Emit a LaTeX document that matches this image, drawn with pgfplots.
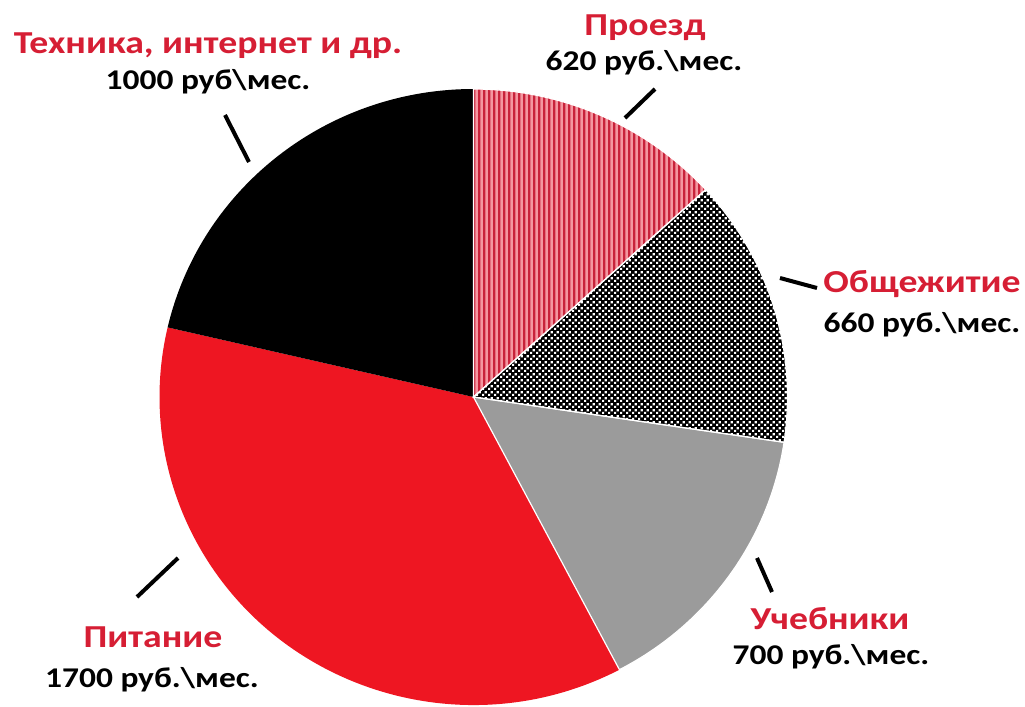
\documentclass[border=0pt]{standalone}
\usepackage{pgfplots}
\pgfplotsset{compat=1.18}
\usepackage{pgfplotstable}
\usepackage{fontspec}
\setmainfont{Carlito}
\usetikzlibrary{patterns}
\definecolor{lblred}{RGB}{214,30,52}
\definecolor{pinkbg}{RGB}{244,150,160}
\definecolor{stripered}{RGB}{200,34,58}
\definecolor{pitred}{RGB}{238,22,34}
\definecolor{uchgray}{RGB}{155,155,155}
\pgfdeclarepatternformonly{stripes}{\pgfqpoint{0pt}{0pt}}{\pgfqpoint{2.6pt}{320pt}}{\pgfqpoint{2.6pt}{320pt}}{\pgfpathrectangle{\pgfqpoint{0pt}{0pt}}{\pgfqpoint{1.3pt}{320pt}}\pgfusepath{fill}}
\pgfdeclarepatternformonly{checks}{\pgfpointorigin}{\pgfqpoint{2.8pt}{2.8pt}}{\pgfqpoint{2.8pt}{2.8pt}}{\pgfpathrectangle{\pgfpointorigin}{\pgfqpoint{1.15pt}{1.15pt}}\pgfpathrectangle{\pgfqpoint{1.4pt}{1.4pt}}{\pgfqpoint{1.15pt}{1.15pt}}\pgfusepath{fill}}

\pgfplotstableread{
label value
Proezd 620
Obshch 660
Uchebn 700
Pitan 1700
Tekhn 1000
}\piedata

\pgfplotstablegetelem{0}{value}\of\piedata \let\vA\pgfplotsretval
\pgfplotstablegetelem{1}{value}\of\piedata \let\vB\pgfplotsretval
\pgfplotstablegetelem{2}{value}\of\piedata \let\vC\pgfplotsretval
\pgfplotstablegetelem{3}{value}\of\piedata \let\vD\pgfplotsretval
\pgfplotstablegetelem{4}{value}\of\piedata \let\vE\pgfplotsretval
\pgfmathsetmacro{\vT}{\vA+\vB+\vC+\vD+\vE}
\pgfmathsetmacro{\aA}{90}
\pgfmathsetmacro{\aB}{\aA-\vA/\vT*360}
\pgfmathsetmacro{\aC}{\aB-\vB/\vT*360}
\pgfmathsetmacro{\aD}{\aC-\vC/\vT*360}
\pgfmathsetmacro{\aE}{\aD-\vD/\vT*360}
\pgfmathsetmacro{\aF}{\aE-\vE/\vT*360}

\newcommand{\sector}[3]{%
  \path[#1] (axis cs:473.5,397) -- ++(#2:157pt and 154pt)
    arc[start angle=#2, end angle=#3, x radius=157pt, y radius=154pt] -- cycle;}

\begin{document}
\begin{tikzpicture}
\begin{axis}[hide axis, scale only axis, width=512.5pt, height=353.5pt,
  xmin=0, xmax=1025, ymin=0, ymax=707, y dir=reverse, clip=false]
\sector{fill=pinkbg}{\aA}{\aB}
\sector{pattern=stripes, pattern color=stripered}{\aA}{\aB}
\sector{fill=black}{\aB}{\aC}
\sector{pattern=checks, pattern color=white}{\aB}{\aC}
\sector{fill=uchgray}{\aC}{\aD}
\sector{fill=pitred}{\aD}{\aE}
\sector{fill=black}{\aE}{\aF}
\sector{draw=white, line width=0.6pt}{\aA}{\aB}
\sector{draw=white, line width=0.6pt}{\aB}{\aC}
\sector{draw=white, line width=0.6pt}{\aC}{\aD}

\tikzset{ttl/.style={font=\bfseries\fontsize{16}{18}\selectfont, text=lblred, inner sep=0pt, xscale=1.18},
         val/.style={font=\bfseries\fontsize{14.3}{16}\selectfont, text=black, inner sep=0pt, xscale=1.17}}
\node[ttl] at (axis cs:645,28) {Проезд};
\node[val] at (axis cs:644,63) {620 руб.\textbackslash мес.};
\node[ttl] at (axis cs:208,46) {Техника, интернет и др.};
\node[val] at (axis cs:208,82) {1000 руб\textbackslash мес.};
\node[ttl] at (axis cs:922,284) {Общежитие};
\node[val] at (axis cs:922,325) {660 руб.\textbackslash мес.};
\node[ttl] at (axis cs:830,619) {Учебники};
\node[val] at (axis cs:831,657) {700 руб.\textbackslash мес.};
\node[ttl] at (axis cs:153,637) {Питание};
\node[val] at (axis cs:152,680) {1700 руб.\textbackslash мес.};

\draw[line width=2pt] (axis cs:625,118) -- (axis cs:655,89);
\draw[line width=2pt] (axis cs:225,115) -- (axis cs:249,162);
\draw[line width=2pt] (axis cs:780,278) -- (axis cs:817,288);
\draw[line width=2pt] (axis cs:757,558) -- (axis cs:772,592);
\draw[line width=2pt] (axis cs:137,597) -- (axis cs:178,558);
\end{axis}
\pgfresetboundingbox
\useasboundingbox (current axis.south west) rectangle (current axis.north east);
\end{tikzpicture}
\end{document}
